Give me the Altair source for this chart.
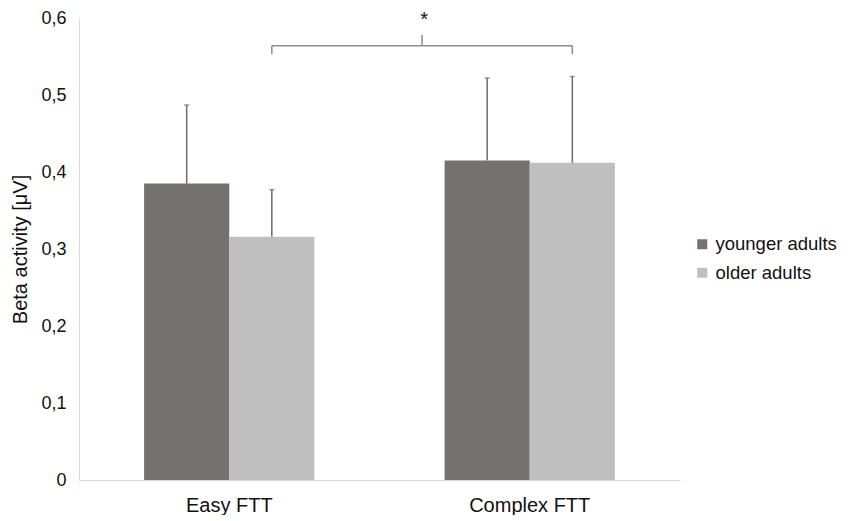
import altair as alt
import pandas as pd

categories = ["Easy FTT", "Complex FTT"]
groups = ["younger adults", "older adults"]
younger_mean = [0.385, 0.415]
older_mean = [0.316, 0.412]
younger_err = [0.102, 0.107]
older_err = [0.061, 0.112]
y_ticks = [0, 0.1, 0.2, 0.3, 0.4, 0.5, 0.6]

bracket_y = 0.564
bracket_end_y = 0.553
bracket_peak_y = 0.578
star_y = 0.611
star_text = "*"

rows = []
for i, c in enumerate(categories):
    rows.append(dict(cat=c, grp=groups[0], mean=younger_mean[i], top=younger_mean[i] + younger_err[i]))
    rows.append(dict(cat=c, grp=groups[1], mean=older_mean[i], top=older_mean[i] + older_err[i]))
df = pd.DataFrame(rows)

df_br = pd.DataFrame([dict(c1=categories[0], c2=categories[1], y=bracket_y)])
df_ends = pd.DataFrame([dict(cat=c, y=bracket_end_y, y2=bracket_y) for c in categories])
df_peak = pd.DataFrame([dict(cat=categories[0], y=bracket_y, y2=bracket_peak_y, ys=star_y, t=star_text)])

W, H = 601, 462
FONT = "Liberation Sans"
TXT = "#111111"
P_IN, P_OUT = 0.4333, 0.2167
STEP = W / (len(categories) - P_IN + 2 * P_OUT)
HALF_STEP = STEP / 2

xscale = alt.Scale(domain=categories, paddingInner=P_IN, paddingOuter=P_OUT)
yscale = alt.Scale(domain=[0, 0.6])
cscale = alt.Scale(domain=groups, range=["#767171", "#bfbfbf"])
oscale = alt.Scale(domain=groups, paddingInner=0, paddingOuter=0)

xaxis = alt.Axis(title=None, labelAngle=0, labelFontSize=20, labelPadding=15, ticks=False,
                 domainColor="#d9d9d9", labelColor=TXT, labelFont=FONT, grid=False)
yaxis = alt.Axis(title="Beta activity [μV]", values=y_ticks,
                 labelExpr="datum.value == 0 ? '0' : replace(format(datum.value, '.1f'), '.', ',')",
                 labelFontSize=18, labelPadding=13, ticks=False, grid=False,
                 domainColor="#d9d9d9", labelColor=TXT, labelFont=FONT,
                 titleFont=FONT, titleFontSize=20, titleFontWeight="normal",
                 titleColor=TXT, titlePadding=10)

bars = alt.Chart(df).mark_bar().encode(
    x=alt.X("cat:N", scale=xscale, sort=categories, axis=xaxis),
    xOffset=alt.XOffset("grp:N", scale=oscale, sort=groups),
    y=alt.Y("mean:Q", scale=yscale, axis=yaxis),
    color=alt.Color("grp:N", scale=cscale, sort=groups,
                    legend=alt.Legend(title=None, orient="none", legendX=614, legendY=217,
                                      symbolType="square", symbolSize=100, symbolStrokeWidth=0,
                                      labelFontSize=18.5, labelFont=FONT, labelColor=TXT,
                                      labelOffset=4, rowPadding=9.5, labelLimit=200)),
)

err = alt.Chart(df).mark_rule(color="#6e6b6b", strokeWidth=1.5).encode(
    x=alt.X("cat:N", scale=xscale, sort=categories),
    xOffset=alt.XOffset("grp:N", scale=oscale, sort=groups),
    y=alt.Y("mean:Q", scale=yscale),
    y2="top:Q",
)
caps = alt.Chart(df).mark_tick(color="#6e6b6b", orient="horizontal", size=5, thickness=1.5).encode(
    x=alt.X("cat:N", scale=xscale, sort=categories),
    xOffset=alt.XOffset("grp:N", scale=oscale, sort=groups),
    y=alt.Y("top:Q", scale=yscale),
)

BR = "#8c8c8c"
br_line = alt.Chart(df_br).mark_rule(color=BR, strokeWidth=1.5).encode(
    x=alt.X("c1:N", scale=xscale, sort=categories, bandPosition=0.75),
    x2=alt.X2("c2:N", bandPosition=0.75),
    y=alt.Y("y:Q", scale=yscale),
)
br_ends = alt.Chart(df_ends).mark_rule(color=BR, strokeWidth=1.5).encode(
    x=alt.X("cat:N", scale=xscale, sort=categories, bandPosition=0.75),
    y=alt.Y("y:Q", scale=yscale),
    y2="y2:Q",
)
br_peak = alt.Chart(df_peak).mark_rule(color=BR, strokeWidth=1.5, xOffset=HALF_STEP).encode(
    x=alt.X("cat:N", scale=xscale, sort=categories, bandPosition=0.75),
    y=alt.Y("y:Q", scale=yscale),
    y2="y2:Q",
)
star = alt.Chart(df_peak).mark_text(fontSize=20, font=FONT, color=TXT, baseline="top",
                                    xOffset=HALF_STEP + 2).encode(
    x=alt.X("cat:N", scale=xscale, sort=categories, bandPosition=0.75),
    y=alt.Y("ys:Q", scale=yscale),
    text="t:N",
)

chart = alt.layer(bars, err, caps, br_line, br_ends, br_peak, star).properties(
    width=W, height=H,
    autosize=alt.AutoSizeParams(type="none"),
    padding={"left": 71, "top": 10, "right": 162, "bottom": 35},
).configure(background="white").configure_view(stroke=None)

chart.save("out.html", embed_options={"renderer": "svg", "actions": False})
